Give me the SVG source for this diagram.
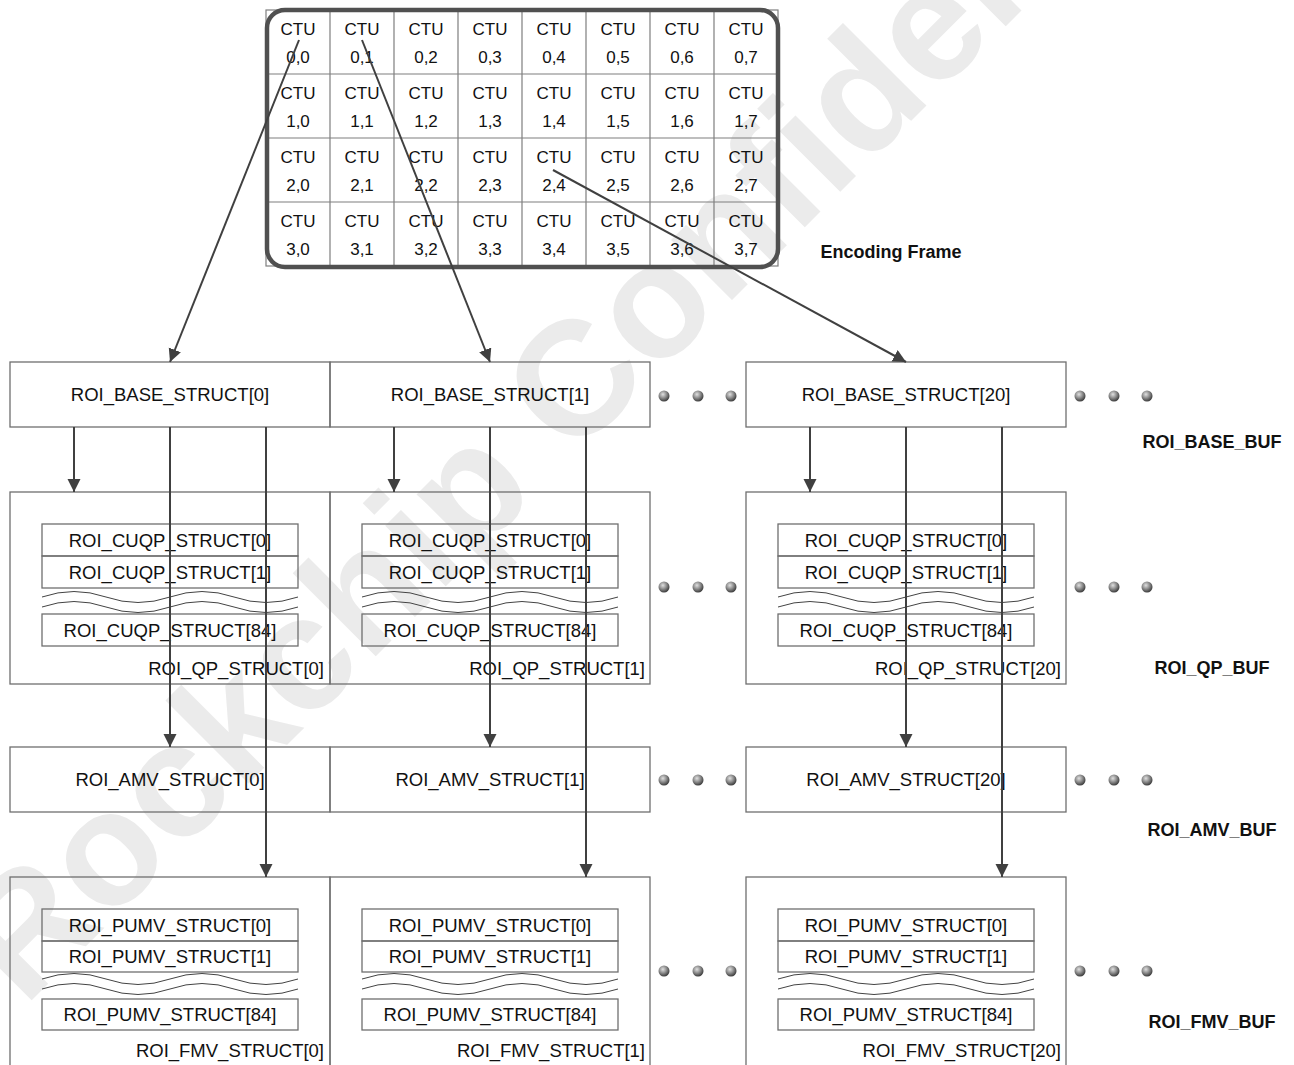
<svg xmlns="http://www.w3.org/2000/svg" width="1294" height="1065" viewBox="0 0 1294 1065">
<style>
.box{fill:none;stroke:#6f6f6f;stroke-width:1.3}
.grid{fill:none;stroke:#7f7f7f;stroke-width:1.2}
.frame{fill:none;stroke:#505050;stroke-width:4.5}
.t{font-family:"Liberation Sans",Arial,sans-serif;font-size:18.5px;fill:#111;text-anchor:middle}
.te{font-family:"Liberation Sans",Arial,sans-serif;font-size:18.5px;fill:#111;text-anchor:end}
.ctu{font-family:"Liberation Sans",Arial,sans-serif;font-size:17px;fill:#111;text-anchor:middle}
.b{font-family:"Liberation Sans",Arial,sans-serif;font-size:18px;font-weight:bold;fill:#111;text-anchor:middle}
.wave{fill:none;stroke:#444;stroke-width:1}
.con{fill:none;stroke:#404040;stroke-width:2;marker-end:url(#ah)}
.wm{font-family:"Liberation Sans",Arial,sans-serif;font-size:162px;font-weight:bold;fill:#ebebeb}
</style>
<defs>
<marker id="ah" markerUnits="userSpaceOnUse" markerWidth="14" markerHeight="14" refX="13" refY="6.5" orient="auto">
<path d="M0,0 L13,6.5 L0,13 z" fill="#404040"/>
</marker>
<radialGradient id="ball" cx="40%" cy="35%" r="65%">
<stop offset="0" stop-color="#e0e0e0"/>
<stop offset="0.5" stop-color="#909090"/>
<stop offset="1" stop-color="#3c3c3c"/>
</radialGradient>
<g id="dots3">
<circle cx="0" cy="0" r="5.5" fill="url(#ball)"/>
<circle cx="34" cy="0" r="5.5" fill="url(#ball)"/>
<circle cx="67" cy="0" r="5.5" fill="url(#ball)"/>
</g>
<path id="wv" d="M0,0 q32,-11 64,0 t64,0 t64,0 t64,0"/>
</defs>
<rect width="1294" height="1065" fill="#fff"/>
<text class="wm" transform="translate(24,1008) rotate(-45)">Rockchip Confidential</text>

<g id="encoding-frame">
<rect class="grid" x="266" y="10" width="512" height="256"/>
<path class="grid" d="M330,10V266M394,10V266M458,10V266M522,10V266M586,10V266M650,10V266M714,10V266M266,74H778M266,138H778M266,202H778"/>
<rect class="frame" x="267" y="10" width="511" height="257" rx="18"/>
<g>
<text class="ctu" x="298" y="35">CTU</text><text class="ctu" x="298" y="63">0,0</text>
<text class="ctu" x="362" y="35">CTU</text><text class="ctu" x="362" y="63">0,1</text>
<text class="ctu" x="426" y="35">CTU</text><text class="ctu" x="426" y="63">0,2</text>
<text class="ctu" x="490" y="35">CTU</text><text class="ctu" x="490" y="63">0,3</text>
<text class="ctu" x="554" y="35">CTU</text><text class="ctu" x="554" y="63">0,4</text>
<text class="ctu" x="618" y="35">CTU</text><text class="ctu" x="618" y="63">0,5</text>
<text class="ctu" x="682" y="35">CTU</text><text class="ctu" x="682" y="63">0,6</text>
<text class="ctu" x="746" y="35">CTU</text><text class="ctu" x="746" y="63">0,7</text>
<text class="ctu" x="298" y="99">CTU</text><text class="ctu" x="298" y="127">1,0</text>
<text class="ctu" x="362" y="99">CTU</text><text class="ctu" x="362" y="127">1,1</text>
<text class="ctu" x="426" y="99">CTU</text><text class="ctu" x="426" y="127">1,2</text>
<text class="ctu" x="490" y="99">CTU</text><text class="ctu" x="490" y="127">1,3</text>
<text class="ctu" x="554" y="99">CTU</text><text class="ctu" x="554" y="127">1,4</text>
<text class="ctu" x="618" y="99">CTU</text><text class="ctu" x="618" y="127">1,5</text>
<text class="ctu" x="682" y="99">CTU</text><text class="ctu" x="682" y="127">1,6</text>
<text class="ctu" x="746" y="99">CTU</text><text class="ctu" x="746" y="127">1,7</text>
<text class="ctu" x="298" y="163">CTU</text><text class="ctu" x="298" y="191">2,0</text>
<text class="ctu" x="362" y="163">CTU</text><text class="ctu" x="362" y="191">2,1</text>
<text class="ctu" x="426" y="163">CTU</text><text class="ctu" x="426" y="191">2,2</text>
<text class="ctu" x="490" y="163">CTU</text><text class="ctu" x="490" y="191">2,3</text>
<text class="ctu" x="554" y="163">CTU</text><text class="ctu" x="554" y="191">2,4</text>
<text class="ctu" x="618" y="163">CTU</text><text class="ctu" x="618" y="191">2,5</text>
<text class="ctu" x="682" y="163">CTU</text><text class="ctu" x="682" y="191">2,6</text>
<text class="ctu" x="746" y="163">CTU</text><text class="ctu" x="746" y="191">2,7</text>
<text class="ctu" x="298" y="227">CTU</text><text class="ctu" x="298" y="255">3,0</text>
<text class="ctu" x="362" y="227">CTU</text><text class="ctu" x="362" y="255">3,1</text>
<text class="ctu" x="426" y="227">CTU</text><text class="ctu" x="426" y="255">3,2</text>
<text class="ctu" x="490" y="227">CTU</text><text class="ctu" x="490" y="255">3,3</text>
<text class="ctu" x="554" y="227">CTU</text><text class="ctu" x="554" y="255">3,4</text>
<text class="ctu" x="618" y="227">CTU</text><text class="ctu" x="618" y="255">3,5</text>
<text class="ctu" x="682" y="227">CTU</text><text class="ctu" x="682" y="255">3,6</text>
<text class="ctu" x="746" y="227">CTU</text><text class="ctu" x="746" y="255">3,7</text>
</g>
<text class="b" x="891" y="258">Encoding Frame</text>
</g>

<g id="roi-base-buf">
<rect class="box" x="10" y="362" width="320" height="65"/>
<text class="t" x="170" y="401">ROI_BASE_STRUCT[0]</text>
<rect class="box" x="330" y="362" width="320" height="65"/>
<text class="t" x="490" y="401">ROI_BASE_STRUCT[1]</text>
<rect class="box" x="746" y="362" width="320" height="65"/>
<text class="t" x="906" y="401">ROI_BASE_STRUCT[20]</text>
<use href="#dots3" x="664" y="396"/>
<use href="#dots3" x="1080" y="396"/>
<text class="b" x="1212" y="448">ROI_BASE_BUF</text>
</g>

<g id="roi-qp-buf">
<rect class="box" x="10" y="492" width="320" height="192"/>
<rect class="box" x="42" y="524" width="256" height="32"/>
<rect class="box" x="42" y="556" width="256" height="32"/>
<rect class="box" x="42" y="614" width="256" height="32"/>
<use href="#wv" class="wave" x="42" y="597"/>
<use href="#wv" class="wave" x="42" y="607"/>
<text class="t" x="170" y="547">ROI_CUQP_STRUCT[0]</text>
<text class="t" x="170" y="579">ROI_CUQP_STRUCT[1]</text>
<text class="t" x="170" y="637">ROI_CUQP_STRUCT[84]</text>
<text class="te" x="324" y="675">ROI_QP_STRUCT[0]</text>

<rect class="box" x="330" y="492" width="320" height="192"/>
<rect class="box" x="362" y="524" width="256" height="32"/>
<rect class="box" x="362" y="556" width="256" height="32"/>
<rect class="box" x="362" y="614" width="256" height="32"/>
<use href="#wv" class="wave" x="362" y="597"/>
<use href="#wv" class="wave" x="362" y="607"/>
<text class="t" x="490" y="547">ROI_CUQP_STRUCT[0]</text>
<text class="t" x="490" y="579">ROI_CUQP_STRUCT[1]</text>
<text class="t" x="490" y="637">ROI_CUQP_STRUCT[84]</text>
<text class="te" x="645" y="675">ROI_QP_STRUCT[1]</text>

<rect class="box" x="746" y="492" width="320" height="192"/>
<rect class="box" x="778" y="524" width="256" height="32"/>
<rect class="box" x="778" y="556" width="256" height="32"/>
<rect class="box" x="778" y="614" width="256" height="32"/>
<use href="#wv" class="wave" x="778" y="597"/>
<use href="#wv" class="wave" x="778" y="607"/>
<text class="t" x="906" y="547">ROI_CUQP_STRUCT[0]</text>
<text class="t" x="906" y="579">ROI_CUQP_STRUCT[1]</text>
<text class="t" x="906" y="637">ROI_CUQP_STRUCT[84]</text>
<text class="te" x="1061" y="675">ROI_QP_STRUCT[20]</text>

<use href="#dots3" x="664" y="587"/>
<use href="#dots3" x="1080" y="587"/>
<text class="b" x="1212" y="674">ROI_QP_BUF</text>
</g>

<g id="roi-amv-buf">
<rect class="box" x="10" y="747" width="320" height="65"/>
<text class="t" x="170" y="786">ROI_AMV_STRUCT[0]</text>
<rect class="box" x="330" y="747" width="320" height="65"/>
<text class="t" x="490" y="786">ROI_AMV_STRUCT[1]</text>
<rect class="box" x="746" y="747" width="320" height="65"/>
<text class="t" x="906" y="786">ROI_AMV_STRUCT[20]</text>
<use href="#dots3" x="664" y="780"/>
<use href="#dots3" x="1080" y="780"/>
<text class="b" x="1212" y="836">ROI_AMV_BUF</text>
</g>

<g id="roi-fmv-buf">
<rect class="box" x="10" y="877" width="320" height="200"/>
<rect class="box" x="42" y="909" width="256" height="32"/>
<rect class="box" x="42" y="941" width="256" height="31"/>
<rect class="box" x="42" y="999" width="256" height="31"/>
<use href="#wv" class="wave" x="42" y="979"/>
<use href="#wv" class="wave" x="42" y="989"/>
<text class="t" x="170" y="932">ROI_PUMV_STRUCT[0]</text>
<text class="t" x="170" y="963">ROI_PUMV_STRUCT[1]</text>
<text class="t" x="170" y="1021">ROI_PUMV_STRUCT[84]</text>
<text class="te" x="324" y="1057">ROI_FMV_STRUCT[0]</text>

<rect class="box" x="330" y="877" width="320" height="200"/>
<rect class="box" x="362" y="909" width="256" height="32"/>
<rect class="box" x="362" y="941" width="256" height="31"/>
<rect class="box" x="362" y="999" width="256" height="31"/>
<use href="#wv" class="wave" x="362" y="979"/>
<use href="#wv" class="wave" x="362" y="989"/>
<text class="t" x="490" y="932">ROI_PUMV_STRUCT[0]</text>
<text class="t" x="490" y="963">ROI_PUMV_STRUCT[1]</text>
<text class="t" x="490" y="1021">ROI_PUMV_STRUCT[84]</text>
<text class="te" x="645" y="1057">ROI_FMV_STRUCT[1]</text>

<rect class="box" x="746" y="877" width="320" height="200"/>
<rect class="box" x="778" y="909" width="256" height="32"/>
<rect class="box" x="778" y="941" width="256" height="31"/>
<rect class="box" x="778" y="999" width="256" height="31"/>
<use href="#wv" class="wave" x="778" y="979"/>
<use href="#wv" class="wave" x="778" y="989"/>
<text class="t" x="906" y="932">ROI_PUMV_STRUCT[0]</text>
<text class="t" x="906" y="963">ROI_PUMV_STRUCT[1]</text>
<text class="t" x="906" y="1021">ROI_PUMV_STRUCT[84]</text>
<text class="te" x="1061" y="1057">ROI_FMV_STRUCT[20]</text>

<use href="#dots3" x="664" y="971"/>
<use href="#dots3" x="1080" y="971"/>
<text class="b" x="1212" y="1028">ROI_FMV_BUF</text>
</g>

<g id="connectors">
<line class="con" x1="299" y1="40" x2="170" y2="362"/>
<line class="con" x1="362" y1="40" x2="490" y2="362"/>
<line class="con" x1="553" y1="170" x2="906" y2="362"/>
<line class="con" x1="74" y1="427" x2="74" y2="492"/>
<line class="con" x1="170" y1="427" x2="170" y2="747"/>
<line class="con" x1="266" y1="427" x2="266" y2="877"/>
<line class="con" x1="394" y1="427" x2="394" y2="492"/>
<line class="con" x1="490" y1="427" x2="490" y2="747"/>
<line class="con" x1="586" y1="427" x2="586" y2="877"/>
<line class="con" x1="810" y1="427" x2="810" y2="492"/>
<line class="con" x1="906" y1="427" x2="906" y2="747"/>
<line class="con" x1="1002" y1="427" x2="1002" y2="877"/>
</g>
</svg>
